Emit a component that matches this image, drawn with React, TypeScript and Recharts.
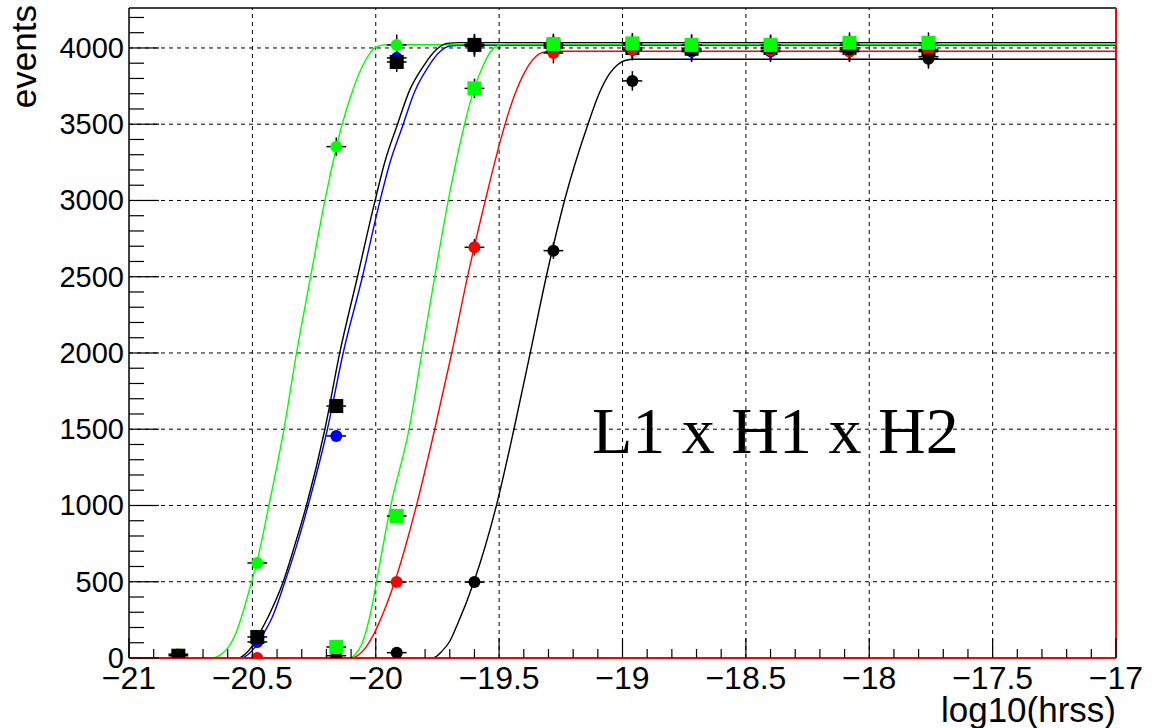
import React from 'react'
import { ComposedChart, Line, Scatter, XAxis, YAxis, ReferenceLine, ErrorBar } from 'recharts'

// log10(hrss) injection points
const hrssPoints = [-20.8, -20.48, -20.16, -19.915, -19.6, -19.28, -18.96, -18.72, -18.4, -18.08, -17.76]
const xHalfWidth = 0.04

const greenCircleEvents = [25, 623, 3353, 4020, 4025, 4020, 4020, 4020, 4015, 4020, 3943]
const greenCircleErr = [5, 25, 60, 68, 68, 68, 68, 68, 68, 68, 66]
const blueCircleEvents = [0, 105, 1456, 3935, 4010, 4000, 3987, 3976, 3976, 3978, 3976]
const blueCircleErr = [0, 10, 40, 66, 68, 68, 68, 68, 68, 68, 68]
const blackSquareEvents = [15, 138, 1652, 3908, 4020, 4010, 4000, 3995, 4000, 4000, 3990]
const blackSquareErr = [4, 12, 42, 66, 68, 68, 68, 68, 68, 68, 68]
const greenSquareEvents = [null, null, 72, 931, 3735, 4026, 4030, 4020, 4020, 4034, 4034]
const greenSquareErr = [0, 0, 8, 31, 64, 68, 68, 68, 68, 68, 68]
const redCircleEvents = [null, 0, 15, 498, 2693, 3967, 3990, 3985, 3985, 3976, 3985]
const redCircleErr = [0, 0, 4, 22, 54, 68, 68, 68, 68, 68, 68]
const blackCircleEvents = [null, null, 0, 35, 498, 2671, 3784, 3985, 4000, 3990, 3930]
const blackCircleErr = [0, 0, 0, 6, 22, 54, 64, 68, 68, 68, 66]

// fitted curves as [log10(hrss), events]
const greenCircleFit = [[-21, 0], [-20.66, 0], [-20.63, 20], [-20.6, 65], [-20.57, 150], [-20.54, 290], [-20.51, 460], [-20.48, 640], [-20.433, 1000], [-20.372, 1500], [-20.321, 2000], [-20.264, 2500], [-20.206, 3000], [-20.136, 3500], [-20.1, 3690], [-20.06, 3860], [-20.03, 3950], [-20.0, 4005], [-19.96, 4021], [-17, 4022]]
const blackSquareFit = [[-21, 0], [-20.555, 0], [-20.53, 25], [-20.5, 80], [-20.47, 165], [-20.43, 290], [-20.375, 500], [-20.33, 730], [-20.281, 1000], [-20.206, 1500], [-20.146, 2000], [-20.074, 2500], [-20.01, 2950], [-19.96, 3270], [-19.916, 3480], [-19.862, 3725], [-19.808, 3878], [-19.754, 3990], [-19.71, 4030], [-19.66, 4035], [-17, 4035]]
const blueCircleFit = [[-21, 0], [-20.545, 0], [-20.52, 20], [-20.49, 70], [-20.46, 145], [-20.42, 265], [-20.368, 500], [-20.32, 740], [-20.274, 1000], [-20.196, 1500], [-20.132, 2000], [-20.054, 2500], [-19.99, 2950], [-19.94, 3260], [-19.895, 3470], [-19.842, 3715], [-19.79, 3870], [-19.74, 3975], [-19.7, 4013], [-19.65, 4017], [-17, 4017]]
const greenSquareFit = [[-21, 0], [-20.11, 0], [-20.085, 20], [-20.06, 80], [-20.035, 200], [-20.015, 340], [-19.997, 500], [-19.939, 1000], [-19.865, 1500], [-19.813, 2000], [-19.761, 2500], [-19.706, 3000], [-19.64, 3500], [-19.6, 3740], [-19.566, 3880], [-19.535, 3975], [-19.505, 4015], [-19.47, 4025], [-17, 4025]]
const redCircleFit = [[-21, 0], [-20.1, 0], [-20.07, 20], [-20.04, 70], [-20.01, 150], [-19.984, 240], [-19.923, 500], [-19.835, 1000], [-19.761, 1500], [-19.692, 2000], [-19.628, 2500], [-19.556, 3000], [-19.49, 3420], [-19.44, 3680], [-19.39, 3860], [-19.35, 3945], [-19.31, 3975], [-19.26, 3978], [-17, 3978]]
const blackCircleFit = [[-21, 0], [-19.775, 0], [-19.755, 10], [-19.734, 41], [-19.7, 110], [-19.673, 205], [-19.602, 500], [-19.511, 1000], [-19.44, 1500], [-19.374, 2000], [-19.309, 2500], [-19.235, 3000], [-19.14, 3500], [-19.095, 3700], [-19.053, 3830], [-19.02, 3890], [-18.99, 3918], [-18.95, 3926], [-17, 3926]]

const xTicks = [-21, -20.9, -20.8, -20.7, -20.6, -20.5, -20.4, -20.3, -20.2, -20.1, -20, -19.9, -19.8, -19.7, -19.6, -19.5, -19.4, -19.3, -19.2, -19.1, -19, -18.9, -18.8, -18.7, -18.6, -18.5, -18.4, -18.3, -18.2, -18.1, -18, -17.9, -17.8, -17.7, -17.6, -17.5, -17.4, -17.3, -17.2, -17.1, -17]
const xGrid = [-20.5, -20, -19.5, -19, -18.5, -18, -17.5]
const yTicks = [0, 100, 200, 300, 400, 500, 600, 700, 800, 900, 1000, 1100, 1200, 1300, 1400, 1500, 1600, 1700, 1800, 1900, 2000, 2100, 2200, 2300, 2400, 2500, 2600, 2700, 2800, 2900, 3000, 3100, 3200, 3300, 3400, 3500, 3600, 3700, 3800, 3900, 4000, 4100, 4200]
const yGrid = [500, 1000, 1500, 2000, 2500, 3000, 3500, 4000]
const Y_MAX = 4262

const W = 1158
const H = 728
const FONT = '"Liberation Sans", Arial, Helvetica, sans-serif'

function points(ys: (number | null)[], errs: number[]) {
  const out: { x: number; y: number; xErr: number; yErr: number }[] = []
  ys.forEach((y, i) => {
    if (y !== null) out.push({ x: hrssPoints[i], y, xErr: xHalfWidth, yErr: errs[i] })
  })
  return out
}

function curve(pts: number[][]) {
  return pts.map(([x, y]) => ({ x, y }))
}

const circle = (color: string) => (p: any) => <circle cx={p.cx} cy={p.cy} r={6} fill={color} />
const square = (color: string) => (p: any) => <rect x={p.cx - 7} y={p.cy - 7} width={14} height={14} fill={color} />

const fmt = (v: number) => (v < 0 ? '\u2212' + String(Math.abs(v)) : String(v))

function XTick(props: any) {
  const { x, y, payload } = props
  const v = payload.value
  const major = Math.abs(v * 2 - Math.round(v * 2)) < 1e-6
  return (
    <g>
      <line x1={x} x2={x} y1={y} y2={y - (major ? 20 : 9)} stroke="#000" strokeWidth={1.2} />
      {major && (
        <text x={x} y={y + 31} textAnchor="middle" fontSize={32} fontFamily={FONT} fill="#000">
          {fmt(v)}
        </text>
      )}
    </g>
  )
}

function YTick(props: any) {
  const { x, y, payload } = props
  const v = payload.value
  const major = v % 500 === 0
  return (
    <g>
      <line x1={x} x2={x + (major ? 30 : 15)} y1={y} y2={y} stroke="#000" strokeWidth={1.2} />
      {major && (
        <text x={x - 5} y={y + 10} textAnchor="end" fontSize={29} fontFamily={FONT} fill="#000">
          {v}
        </text>
      )}
    </g>
  )
}

const fits = [
  { key: 'gcf', data: curve(greenCircleFit), color: '#00ff00' },
  { key: 'bsf', data: curve(blackSquareFit), color: '#000000' },
  { key: 'bcf', data: curve(blueCircleFit), color: '#0000ff' },
  { key: 'gsf', data: curve(greenSquareFit), color: '#00ff00' },
  { key: 'rcf', data: curve(redCircleFit), color: '#ff0000' },
  { key: 'kcf', data: curve(blackCircleFit), color: '#000000' },
]

const series = [
  { key: 'blue', data: points(blueCircleEvents, blueCircleErr), shape: circle('#0000ff') },
  { key: 'green', data: points(greenCircleEvents, greenCircleErr), shape: circle('#00ff00') },
  { key: 'blacksq', data: points(blackSquareEvents, blackSquareErr), shape: square('#000000') },
  { key: 'red', data: points(redCircleEvents, redCircleErr), shape: circle('#ff0000') },
  { key: 'black', data: points(blackCircleEvents, blackCircleErr), shape: circle('#000000') },
  { key: 'greensq', data: points(greenSquareEvents, greenSquareErr), shape: square('#00ff00') },
]

export default function App() {
  return (
    <div style={{ position: 'absolute', left: 0, top: 0, width: W, height: H, background: '#fff' }}>
      <ComposedChart width={W} height={H} margin={{ top: 8, right: 42, bottom: 0, left: 0 }}>
        <XAxis
          type="number"
          dataKey="x"
          domain={[-21, -17]}
          ticks={xTicks}
          interval={0}
          height={70}
          tickSize={0}
          tickMargin={0}
          tickLine={false}
          axisLine={{ stroke: '#ff0000', strokeWidth: 2 }}
          tick={<XTick />}
          allowDataOverflow
        />
        <YAxis
          type="number"
          dataKey="y"
          domain={[0, Y_MAX]}
          ticks={yTicks}
          interval={0}
          width={129}
          tickSize={0}
          tickMargin={0}
          tickLine={false}
          axisLine={{ stroke: '#000', strokeWidth: 1.5 }}
          tick={<YTick />}
          allowDataOverflow
        />
        {xGrid.map((v) => (
          <ReferenceLine key={'xg' + v} x={v} stroke="#000" strokeDasharray="4 4" strokeWidth={1} />
        ))}
        {yGrid.map((v) => (
          <ReferenceLine key={'yg' + v} y={v} stroke="#000" strokeDasharray="4 4" strokeWidth={1} />
        ))}
        <ReferenceLine y={Y_MAX} stroke="#000" strokeWidth={1.5} />
        <ReferenceLine x={-17} stroke="#ff0000" strokeWidth={2} />
        {fits.map((f) => (
          <Line
            key={f.key}
            data={f.data}
            dataKey="y"
            type="monotone"
            stroke={f.color}
            strokeWidth={1.4}
            dot={false}
            activeDot={false}
            isAnimationActive={false}
          />
        ))}
        {series.map((s) => (
          <Scatter key={s.key} data={s.data} dataKey="y" shape={s.shape} isAnimationActive={false}>
            <ErrorBar dataKey="yErr" direction="y" width={0} stroke="#000" strokeWidth={1.5} />
            <ErrorBar dataKey="xErr" direction="x" width={0} stroke="#000" strokeWidth={1.5} />
          </Scatter>
        ))}
      </ComposedChart>
      <svg width={W} height={H} style={{ position: 'absolute', left: 0, top: 0, pointerEvents: 'none' }}>
        <text transform="translate(36,5) rotate(-90)" textAnchor="end" fontSize={35} fontFamily={FONT} fill="#000">
          events
        </text>
        <text x={1116} y={722} textAnchor="end" fontSize={35} fontFamily={FONT} fill="#000">
          log10(hrss)
        </text>
        <text x={592} y={453} fontSize={66} fontFamily='"Liberation Serif", "Times New Roman", serif' fill="#000">
          L1 x H1 x H2
        </text>
      </svg>
    </div>
  )
}
